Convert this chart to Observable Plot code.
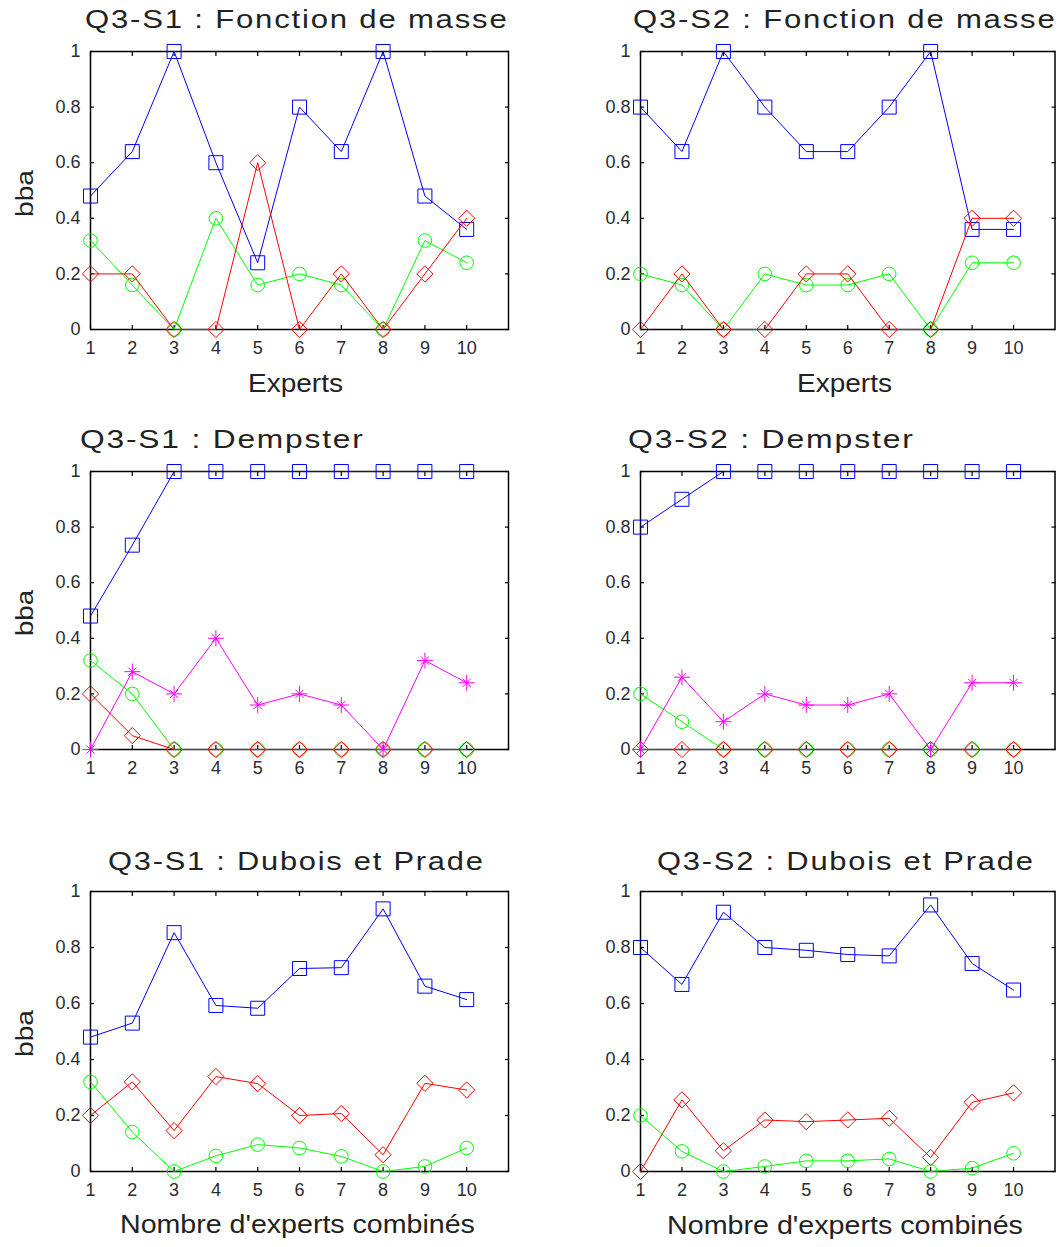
<!DOCTYPE html>
<html><head><meta charset="utf-8">
<script src="https://cdn.jsdelivr.net/npm/d3@7"></script>
<script src="https://cdn.jsdelivr.net/npm/@observablehq/plot@0.6"></script>
<style>
body{margin:0;background:#fff;}
#root{position:relative;width:1061px;height:1247px;overflow:hidden;background:#fff;font-family:"Liberation Sans",Arial,sans-serif;}
#root > svg{position:absolute;overflow:visible;}
</style></head><body><div id="root"></div>
<script>
// ---- data ----
const experts = [1, 2, 3, 4, 5, 6, 7, 8, 9, 10];
const xTicks = [1, 2, 3, 4, 5, 6, 7, 8, 9, 10];
const yTicks = [0, 0.2, 0.4, 0.6, 0.8, 1];

// Q3-S1 : Fonction de masse
const s1MasseBlue  = [0.48, 0.64, 1, 0.6, 0.24, 0.8, 0.64, 1, 0.48, 0.36];
const s1MasseGreen = [0.32, 0.16, 0, 0.4, 0.16, 0.2, 0.16, 0, 0.32, 0.24];
const s1MasseRed   = [0.2, 0.2, 0, 0, 0.6, 0, 0.2, 0, 0.2, 0.4];
// Q3-S2 : Fonction de masse
const s2MasseBlue  = [0.8, 0.64, 1, 0.8, 0.64, 0.64, 0.8, 1, 0.36, 0.36];
const s2MasseGreen = [0.2, 0.16, 0, 0.2, 0.16, 0.16, 0.2, 0, 0.24, 0.24];
const s2MasseRed   = [0, 0.2, 0, 0, 0.2, 0.2, 0, 0, 0.4, 0.4];
// Q3-S1 : Dempster
const s1DempBlue    = [0.48, 0.735, 1, 1, 1, 1, 1, 1, 1, 1];
const s1DempGreen   = [0.32, 0.2, 0, 0, 0, 0, 0, 0, 0, 0];
const s1DempRed     = [0.2, 0.05, 0, 0, 0, 0, 0, 0, 0, 0];
const s1DempMagenta = [0, 0.28, 0.2, 0.4, 0.16, 0.2, 0.16, 0, 0.32, 0.24];
// Q3-S2 : Dempster
const s2DempBlue    = [0.8, 0.9, 1, 1, 1, 1, 1, 1, 1, 1];
const s2DempGreen   = [0.2, 0.1, 0, 0, 0, 0, 0, 0, 0, 0];
const s2DempRed     = [0, 0, 0, 0, 0, 0, 0, 0, 0, 0];
const s2DempMagenta = [0, 0.26, 0.1, 0.2, 0.16, 0.16, 0.2, 0, 0.24, 0.24];
// Q3-S1 : Dubois et Prade
const s1DPBlue  = [0.48, 0.53, 0.853, 0.593, 0.583, 0.725, 0.728, 0.938, 0.662, 0.614];
const s1DPGreen = [0.32, 0.141, 0, 0.056, 0.096, 0.084, 0.054, 0, 0.018, 0.084];
const s1DPRed   = [0.2, 0.32, 0.146, 0.339, 0.314, 0.2, 0.207, 0.06, 0.315, 0.291];
// Q3-S2 : Dubois et Prade
const s2DPBlue  = [0.8, 0.668, 0.926, 0.8, 0.79, 0.775, 0.77, 0.952, 0.743, 0.648];
const s2DPGreen = [0.2, 0.072, 0, 0.018, 0.038, 0.038, 0.045, 0, 0.012, 0.065];
const s2DPRed   = [0, 0.256, 0.074, 0.184, 0.178, 0.184, 0.19, 0.05, 0.247, 0.281];

const titles = ["Q3-S1 : Fonction de masse", "Q3-S2 : Fonction de masse",
                "Q3-S1 : Dempster", "Q3-S2 : Dempster",
                "Q3-S1 : Dubois et Prade", "Q3-S2 : Dubois et Prade"];
const yLabel = "bba";
const xLabels = ["Experts", "", "Nombre d'experts combinés"];

// ---- styles ----
const BLUE = "#0000ff", GREEN = "#00ff00", RED = "#ff0000", MAGENTA = "#ff00ff";
const FONT = "'Liberation Sans', Arial, Helvetica, sans-serif";

const panels = [
  {row: 0, col: 0, series: [[s1MasseBlue, BLUE, "square"], [s1MasseGreen, GREEN, "circle"], [s1MasseRed, RED, "diamond"]]},
  {row: 0, col: 1, series: [[s2MasseBlue, BLUE, "square"], [s2MasseGreen, GREEN, "circle"], [s2MasseRed, RED, "diamond"]]},
  {row: 1, col: 0, series: [[s1DempBlue, BLUE, "square"], [s1DempGreen, GREEN, "circle"], [s1DempRed, RED, "diamond"], [s1DempMagenta, MAGENTA, "star"]]},
  {row: 1, col: 1, series: [[s2DempBlue, BLUE, "square"], [s2DempGreen, GREEN, "circle"], [s2DempRed, RED, "diamond"], [s2DempMagenta, MAGENTA, "star"]]},
  {row: 2, col: 0, series: [[s1DPBlue, BLUE, "square"], [s1DPGreen, GREEN, "circle"], [s1DPRed, RED, "diamond"]]},
  {row: 2, col: 1, series: [[s2DPBlue, BLUE, "square"], [s2DPGreen, GREEN, "circle"], [s2DPRed, RED, "diamond"]]}
];

const rowTop = [0, 420, 840];
const rowPlotBottom = [329, 329, 331];
const colLeft = [0, 540];
const colWidth = [520, 521];
const colML = [90, 100];
const colMR = [12, 6.5];

const root = document.getElementById("root");

function seriesMarks(values, color, kind) {
  const data = experts.map((x, i) => ({x, y: values[i]}));
  const ms = [Plot.line(data, {x: "x", y: "y", stroke: color, strokeWidth: 1})];
  const common = {x: "x", y: "y", stroke: color, fill: "none", strokeWidth: 1};
  if (kind === "square") ms.push(Plot.dot(data, {...common, symbol: "square", r: 7.9}));
  else if (kind === "circle") ms.push(Plot.dot(data, {...common, symbol: "circle", r: 6.8}));
  else if (kind === "diamond") ms.push(Plot.dot(data, {...common, symbol: "diamond2", r: 7.3}));
  else if (kind === "star") {
    ms.push(Plot.dot(data, {...common, symbol: "plus", r: 5.2}));
    ms.push(Plot.dot(data, {...common, symbol: "times", r: 3.8}));
  }
  return ms;
}

panels.forEach(p => {
  const mb = 40, mt = 51;
  const height = rowPlotBottom[p.row] + mb;
  const tickOpts = {tickSize: 4, fill: "none", label: null, stroke: "#000", strokeWidth: 1.2};
  const marks = [
    Plot.axisX(xTicks, {anchor: "bottom", tickSize: 0, tickPadding: 12, tickFormat: d => String(d), label: null, fill: "#2b2b33"}),
    Plot.axisY(yTicks, {anchor: "left", tickSize: 0, tickPadding: 10, tickFormat: d => String(d), label: null, fill: "#2b2b33"}),
    // inward tick marks on all four sides (MATLAB box style)
    Plot.axisX(xTicks, {anchor: "bottom", dy: -4, ...tickOpts}),
    Plot.axisX(xTicks, {anchor: "top", dy: 4, ...tickOpts}),
    Plot.axisY(yTicks, {anchor: "left", dx: 4, ...tickOpts}),
    Plot.axisY(yTicks, {anchor: "right", dx: -4, ...tickOpts}),
    Plot.frame({stroke: "#000", strokeWidth: 1.5})
  ];
  p.series.forEach(([vals, color, kind]) => marks.push(...seriesMarks(vals, color, kind)));
  const svg = Plot.plot({
    width: colWidth[p.col],
    height,
    marginLeft: colML[p.col],
    marginRight: colMR[p.col],
    marginTop: mt,
    marginBottom: mb,
    x: {domain: [1, 11], axis: null},
    y: {domain: [0, 1], axis: null},
    style: {fontFamily: FONT, fontSize: "18px", color: "#333", background: "transparent", overflow: "visible"},
    marks
  });
  svg.style.left = colLeft[p.col] + "px";
  svg.style.top = rowTop[p.row] + "px";
  root.appendChild(svg);
});

// ---- titles and axis labels (overlay text, stretched like the original rendering) ----
const texts = [
  {t: titles[0], x: 85, y: 28, w: 422, s: 26, ls: 1.5},
  {t: titles[1], x: 633, y: 28, w: 422, s: 26, ls: 1.5},
  {t: titles[2], x: 80, y: 448, w: 283, s: 26, ls: 1.5},
  {t: titles[3], x: 628, y: 448, w: 285, s: 26, ls: 1.5},
  {t: titles[4], x: 108, y: 870, w: 375, s: 26, ls: 1.5},
  {t: titles[5], x: 657, y: 870, w: 376, s: 26, ls: 1.5},
  {t: xLabels[0], x: 248, y: 392, w: 95, s: 26, ls: 0},
  {t: xLabels[0], x: 797, y: 392, w: 95, s: 26, ls: 0},
  {t: xLabels[2], x: 120, y: 1233, w: 355, s: 26, ls: 0},
  {t: xLabels[2], x: 667, y: 1234, w: 356, s: 26, ls: 0},
  {t: yLabel, x: 33, y: 217, w: 47, s: 24, ls: 0, rot: true},
  {t: yLabel, x: 33, y: 636, w: 46, s: 24, ls: 0, rot: true},
  {t: yLabel, x: 33, y: 1057, w: 47, s: 24, ls: 0, rot: true}
];
const ov = d3.select(root).append("svg")
  .attr("width", 1061).attr("height", 1247)
  .style("left", "0px").style("top", "0px")
  .style("font-family", FONT);
texts.forEach(d => {
  const el = ov.append("text")
    .attr("font-size", d.s)
    .attr("letter-spacing", d.ls)
    .attr("fill", "#222")
    .text(d.t);
  const nat = el.node().getComputedTextLength() - d.ls;
  const sx = nat > 0 ? d.w / nat : 1;
  el.attr("transform", d.rot
    ? `translate(${d.x},${d.y}) rotate(-90) scale(${sx},1)`
    : `translate(${d.x},${d.y}) scale(${sx},1)`);
});
</script>
</body></html>
